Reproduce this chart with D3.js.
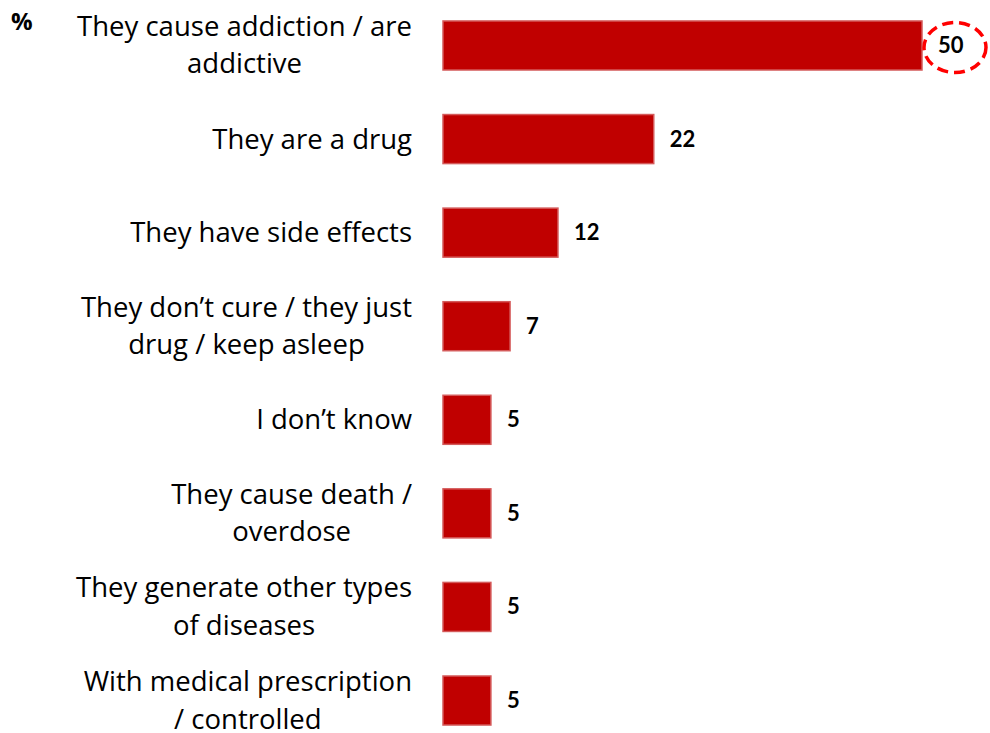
<!DOCTYPE html>
<html><head><meta charset="utf-8">
<script src="https://cdn.jsdelivr.net/npm/d3@7"></script>
<style>body{margin:0;background:#fff}svg{display:block}</style>
</head><body>
<script>
const categories = [
  ["They cause addiction / are","addictive"],
  ["They are a drug"],
  ["They have side effects"],
  ["They don\u2019t cure / they just","drug / keep asleep"],
  ["I don\u2019t know"],
  ["They cause death /","overdose"],
  ["They generate other types","of diseases"],
  ["With medical prescription","/ controlled"]
];
const values = [50, 22, 12, 7, 5, 5, 5, 5];
const highlighted = [0];

const W = 990, H = 733;
const svg = d3.select("body").append("svg").attr("width", W).attr("height", H);
const font = "Open Sans, Lato, sans-serif";
const vfont = "Lato, Open Sans, sans-serif";

const x = d3.scaleLinear().domain([0, 50]).range([443, 922]);
const y = d3.scaleBand().domain(d3.range(categories.length)).range([-1.3, 747.3])
  .paddingInner(0.476).paddingOuter(0.238);

svg.append("text").attr("x", 11).attr("y", 30).text("%")
  .attr("font-family", font).attr("font-weight", "bold").attr("font-size", 24).attr("fill", "#000");

svg.selectAll("rect.bar").data(values).join("rect").attr("class", "bar")
  .attr("x", x(0)).attr("y", (d, i) => y(i))
  .attr("width", d => x(d) - x(0)).attr("height", y.bandwidth())
  .attr("fill", "#C00000").attr("stroke", "#D45A5A").attr("stroke-width", 1.5);

const fs = 27.5, lh = 37.5, rightX = 412;
categories.forEach((lines, i) => {
  const cy = y(i) + y.bandwidth() / 2;
  const g = svg.append("g");
  const base0 = lines.length === 1 ? cy + 9.5 : cy - 9.5;
  const texts = lines.map((l, j) => g.append("text").text(l)
    .attr("font-family", font).attr("font-size", fs).attr("fill", "#000")
    .attr("y", base0 + j * lh));
  const widths = texts.map(t => t.node().getComputedTextLength());
  const maxW = d3.max(widths);
  const center = rightX - maxW / 2;
  texts.forEach(t => t.attr("x", center).attr("text-anchor", "middle"));
});

svg.selectAll("text.val").data(values).join("text").attr("class", "val")
  .attr("x", d => x(d) + 16).attr("y", (d, i) => y(i) + y.bandwidth() / 2 + 7.5)
  .text(d => d).attr("font-family", vfont).attr("font-weight", "bold")
  .attr("font-size", 22).attr("fill", "#000");

highlighted.forEach(i => {
  svg.append("ellipse").attr("cx", x(values[i]) + 33).attr("cy", y(i) + y.bandwidth() / 2 + 2)
    .attr("rx", 31).attr("ry", 25).attr("fill", "none")
    .attr("stroke", "#FF0000").attr("stroke-width", 3.5).attr("stroke-dasharray", "11,6");
});
</script>
</body></html>
